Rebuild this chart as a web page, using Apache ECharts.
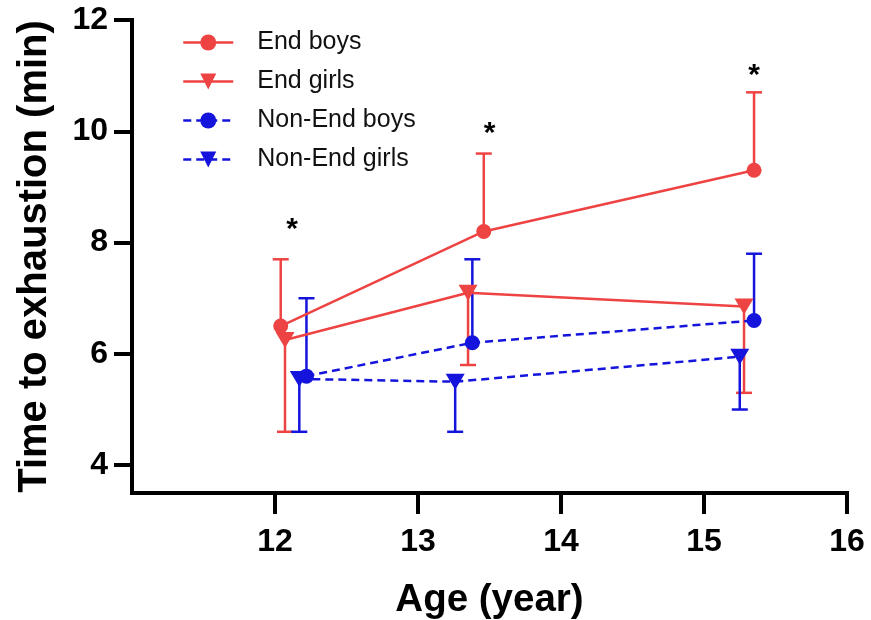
<!DOCTYPE html>
<html>
<head>
<meta charset="utf-8">
<script src="https://cdn.jsdelivr.net/npm/echarts@6/dist/echarts.min.js"></script>
<style>
  html, body { margin: 0; padding: 0; background: #fff; }
  #chart { width: 871px; height: 620px; }
</style>
</head>
<body>
<div id="chart"></div>
<script>
// Mean time to exhaustion by age, with one-sided SD bars.
const seriesNames = ['End boys', 'End girls', 'Non-End boys', 'Non-End girls'];

const endBoysAge = [12.04, 13.46, 15.35];
const endBoysTime = [6.5, 8.2, 9.3];
const endBoysSD = [1.2, 1.4, 1.4];

const endGirlsAge = [12.07, 13.35, 15.28];
const endGirlsTime = [6.25, 7.1, 6.85];
const endGirlsSD = [1.65, 1.3, 1.55];

const nonEndBoysAge = [12.22, 13.38, 15.35];
const nonEndBoysTime = [5.6, 6.2, 6.6];
const nonEndBoysSD = [1.4, 1.5, 1.2];

const nonEndGirlsAge = [12.17, 13.26, 15.25];
const nonEndGirlsTime = [5.55, 5.5, 5.95];
const nonEndGirlsSD = [0.95, 0.9, 0.95];

// Significance markers (age, height of the asterisk)
const sigAge = [12.12, 13.5, 15.35];
const sigTime = [8.36, 10.08, 11.13];

const xTicks = [12, 13, 14, 15, 16];
const yTicks = [4, 6, 8, 10, 12];

const RED = '#ee4343';
const BLUE = '#1414dc';
const FONT = '"Liberation Sans", Arial, Helvetica, sans-serif';

function pairs(ages, vals) {
  return ages.map((a, i) => [a, vals[i]]);
}

function errorData(ages, vals, sd, dir) {
  return ages.map((a, i) => [a, vals[i], vals[i] + dir * sd[i]]);
}

function errorSeries(ages, vals, sd, dir, color) {
  return {
    type: 'custom',
    z: 2,
    silent: true,
    data: errorData(ages, vals, sd, dir),
    encode: { x: 0, y: [1, 2] },
    renderItem: function (params, api) {
      const p0 = api.coord([api.value(0), api.value(1)]);
      const p1 = api.coord([api.value(0), api.value(2)]);
      const hw = 8;
      return {
        type: 'group',
        children: [
          { type: 'line', shape: { x1: p0[0], y1: p0[1], x2: p1[0], y2: p1[1] },
            style: { stroke: color, lineWidth: 2.5 } },
          { type: 'line', shape: { x1: p1[0] - hw, y1: p1[1], x2: p1[0] + hw, y2: p1[1] },
            style: { stroke: color, lineWidth: 2.5 } }
        ]
      };
    }
  };
}

function lineSeries(name, ages, vals, color, symbol, dashed) {
  const isTri = symbol === 'triangle';
  return {
    name: name,
    type: 'line',
    z: 3,
    data: pairs(ages, vals),
    symbol: symbol,
    symbolSize: isTri ? [19, 16] : 15,
    symbolRotate: isTri ? 180 : 0,
    showAllSymbol: true,
    lineStyle: { color: color, width: 2.5, type: dashed ? [8, 5] : 'solid' },
    itemStyle: { color: color },
    emphasis: { disabled: true }
  };
}

const axisCommon = {
  type: 'value',
  axisLine: { show: true, lineStyle: { color: '#000', width: 4, cap: 'square' } },
  splitLine: { show: false },
  nameLocation: 'middle'
};

const chart = echarts.init(document.getElementById('chart'));
chart.setOption({
  animation: false,
  backgroundColor: '#fff',
  textStyle: { fontFamily: FONT },
  grid: { left: 132, right: 24, top: 20, bottom: 127, containLabel: false, outerBoundsMode: 'none' },
  legend: {
    orient: 'vertical',
    left: 177,
    top: 25,
    itemWidth: 50,
    itemHeight: 20,
    itemGap: 14,
    data: seriesNames,
    lineStyle: { width: 2.5 },
    textStyle: { fontSize: 25, color: '#111', fontFamily: FONT, padding: [0, 0, 0, 19] }
  },
  xAxis: Object.assign({}, axisCommon, {
    min: 11,
    max: 16,
    name: 'Age (year)',
    nameGap: 88,
    nameTextStyle: { fontSize: 38.5, fontWeight: 'bold', color: '#000', fontFamily: FONT },
    axisTick: { show: true, customValues: xTicks, length: 21, lineStyle: { color: '#000', width: 4 } },
    axisLabel: { customValues: xTicks, fontSize: 32, fontWeight: 'bold', color: '#000', margin: 33, fontFamily: FONT }
  }),
  yAxis: Object.assign({}, axisCommon, {
    min: 3.5,
    max: 12,
    name: 'Time to exhaustion (min)',
    nameGap: 77,
    nameTextStyle: { fontSize: 40, fontWeight: 'bold', color: '#000', fontFamily: FONT },
    axisTick: { show: true, customValues: yTicks, length: 18, lineStyle: { color: '#000', width: 4 } },
    axisLabel: { customValues: yTicks, fontSize: 32, fontWeight: 'bold', color: '#000', margin: 24, fontFamily: FONT }
  }),
  series: [
    errorSeries(endBoysAge, endBoysTime, endBoysSD, 1, RED),
    errorSeries(endGirlsAge, endGirlsTime, endGirlsSD, -1, RED),
    errorSeries(nonEndBoysAge, nonEndBoysTime, nonEndBoysSD, 1, BLUE),
    errorSeries(nonEndGirlsAge, nonEndGirlsTime, nonEndGirlsSD, -1, BLUE),
    lineSeries(seriesNames[0], endBoysAge, endBoysTime, RED, 'circle', false),
    lineSeries(seriesNames[1], endGirlsAge, endGirlsTime, RED, 'triangle', false),
    lineSeries(seriesNames[2], nonEndBoysAge, nonEndBoysTime, BLUE, 'circle', true),
    lineSeries(seriesNames[3], nonEndGirlsAge, nonEndGirlsTime, BLUE, 'triangle', true),
    {
      type: 'custom',
      z: 4,
      silent: true,
      data: pairs(sigAge, sigTime),
      encode: { x: 0, y: 1 },
      renderItem: function (params, api) {
        const p = api.coord([api.value(0), api.value(1)]);
        return {
          type: 'text',
          x: p[0],
          y: p[1] + 7,
          style: {
            text: '*', fill: '#000', fontSize: 30, fontWeight: 'bold', fontFamily: FONT,
            align: 'center', verticalAlign: 'middle'
          }
        };
      }
    }
  ]
});
</script>
</body>
</html>
